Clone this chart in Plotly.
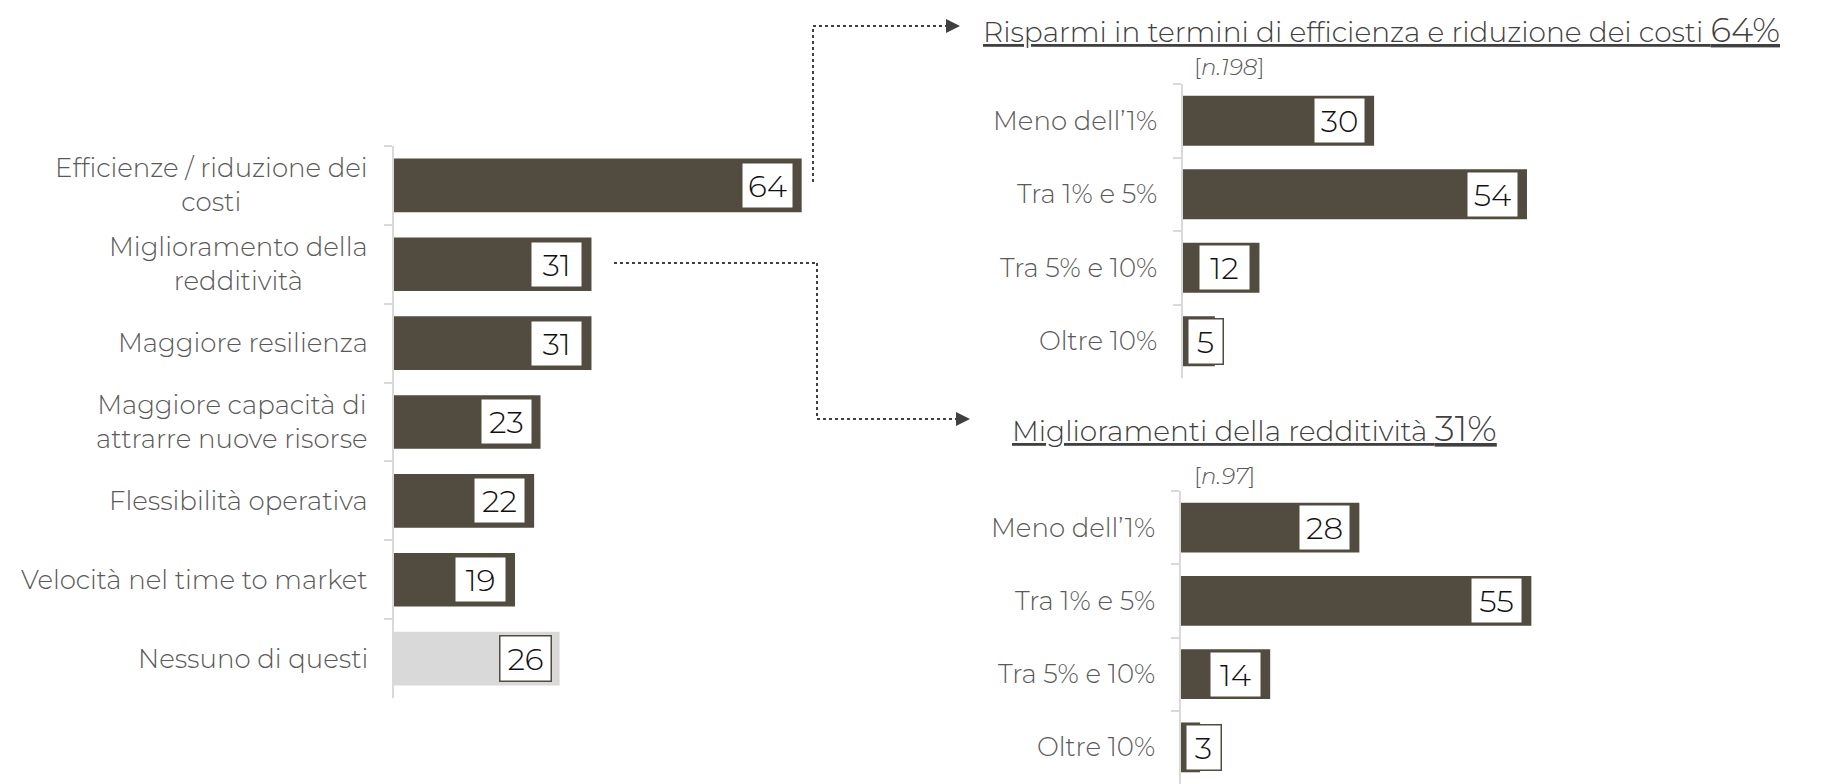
import plotly.graph_objects as go

# left chart: benefits
benefit_labels = [
    "Efficienze / riduzione dei<br>costi",
    "Miglioramento della<br>redditività",
    "Maggiore resilienza",
    "Maggiore capacità di<br>attrarre nuove risorse",
    "Flessibilità operativa",
    "Velocità nel time to market",
    "Nessuno di questi",
]
benefit_values = [64, 31, 31, 23, 22, 19, 26]

# right charts: ranges
range_labels = ["Meno dell’1%", "Tra 1% e 5%", "Tra 5% e 10%", "Oltre 10%"]
savings_values = [30, 54, 12, 5]
profit_values = [28, 55, 14, 3]

savings_title = "Risparmi in termini di efficienza e riduzione dei costi"
savings_share = "64%"
savings_n = "n.198"
profit_title = "Miglioramenti della redditività"
profit_share = "31%"
profit_n = "n.97"

W, H = 1822, 784
OFF = 8  # page body margin
PX_PER_UNIT = 6.37
DARK = "#524b3f"
GREY_BAR = "#d9d9d9"
LABEL_COLOR = "#595959"
FONT = "Montserrat, Open Sans, Lato, sans-serif"


def px_x(p):
    return (p - OFF) / W


def px_y(p):
    return 1 - (p - OFF) / H


fig = go.Figure()

bar_colors = [DARK] * (len(benefit_values) - 1) + [GREY_BAR]
fig.add_trace(go.Bar(
    x=benefit_values, y=benefit_labels, orientation="h",
    marker=dict(color=bar_colors, line=dict(width=0)),
    xaxis="x", yaxis="y", hoverinfo="skip", showlegend=False,
))
fig.add_trace(go.Bar(
    x=savings_values, y=range_labels, orientation="h",
    marker=dict(color=DARK, line=dict(width=0)),
    xaxis="x2", yaxis="y2", hoverinfo="skip", showlegend=False,
))
fig.add_trace(go.Bar(
    x=profit_values, y=range_labels, orientation="h",
    marker=dict(color=DARK, line=dict(width=0)),
    xaxis="x3", yaxis="y3", hoverinfo="skip", showlegend=False,
))

annotations = []
panels = [
    ("x", "y", benefit_labels, benefit_values),
    ("x2", "y2", range_labels, savings_values),
    ("x3", "y3", range_labels, profit_values),
]
for xr, yr, labels, values in panels:
    for lab, v in zip(labels, values):
        # category label, lines centred on each other
        annotations.append(dict(
            x=0, y=lab, xref=xr, yref=yr, text=lab, showarrow=False,
            xanchor="right", yanchor="middle", align="center", xshift=-24,
            font=dict(family=FONT, size=26, color=LABEL_COLOR, weight=300),
        ))
        # value box
        box_w = 42 if v >= 10 else 26
        if v * PX_PER_UNIT - 8 < box_w + 14:
            pos = dict(x=0, xanchor="left", xshift=4)
        else:
            pos = dict(x=v, xanchor="right", xshift=-8)
        annotations.append(dict(
            y=lab, xref=xr, yref=yr, text=str(v), showarrow=False,
            yanchor="middle", width=box_w, height=36, bgcolor="white",
            bordercolor=DARK, borderwidth=1.5, borderpad=4,
            font=dict(family=FONT, size=31, color="#111111", weight=300),
            **pos,
        ))

title_font = dict(family=FONT, size=28, color="#404040", weight=300)
annotations += [
    dict(x=px_x(981), y=px_y(30), xref="paper", yref="paper", xanchor="left", yanchor="middle",
         showarrow=False, font=title_font,
         text=f"<u>{savings_title} <span style='font-size:34px'>{savings_share}</span></u>"),
    dict(x=px_x(1010), y=px_y(428), xref="paper", yref="paper", xanchor="left", yanchor="middle",
         showarrow=False, font=title_font,
         text=f"<u>{profit_title} <span style='font-size:36px'>{profit_share}</span></u>"),
    dict(x=px_x(1192), y=px_y(67), xref="paper", yref="paper", xanchor="left", yanchor="middle",
         showarrow=False, font=dict(family=FONT, size=23, color=LABEL_COLOR, weight=300),
         text=f"[<i>{savings_n}</i>]"),
    dict(x=px_x(1192), y=px_y(476), xref="paper", yref="paper", xanchor="left", yanchor="middle",
         showarrow=False, font=dict(family=FONT, size=23, color=LABEL_COLOR, weight=300),
         text=f"[<i>{profit_n}</i>]"),
]

# dotted connectors with arrow heads
conn = dict(color="#404040", width=2, dash="dot")
shapes = []
for pts in [[(813, 182), (813, 26), (946, 26)],
            [(614, 263), (817, 263), (817, 419), (956, 419)]]:
    for (xa, ya), (xb, yb) in zip(pts[:-1], pts[1:]):
        shapes.append(dict(type="line", xref="paper", yref="paper",
                           x0=px_x(xa), y0=px_y(ya), x1=px_x(xb), y1=px_y(yb), line=conn))
    tx, ty = pts[-1]
    shapes.append(dict(
        type="path", xref="paper", yref="paper", fillcolor="#404040", line=dict(width=0),
        path=f"M {px_x(tx)} {px_y(ty - 7)} L {px_x(tx + 14)} {px_y(ty)} L {px_x(tx)} {px_y(ty + 7)} Z",
    ))


def xaxis(x0px, x1px):
    return dict(domain=[px_x(x0px), min(1, px_x(x1px))], range=[0, (x1px - x0px) / PX_PER_UNIT],
                showgrid=False, zeroline=False, showticklabels=False, showline=False, fixedrange=True)


def yaxis(anchor, top_px, bottom_px, n):
    return dict(domain=[max(0, px_y(bottom_px)), px_y(top_px)], anchor=anchor,
                range=[n - 0.5, -0.5], showgrid=False, zeroline=False, showticklabels=False,
                showline=True, linecolor="#d9d9d9", linewidth=2,
                ticks="outside", tickson="boundaries", ticklen=8, tickcolor="#d9d9d9", tickwidth=2,
                fixedrange=True)


fig.update_layout(
    width=W, height=H,
    margin=dict(l=0, r=0, t=0, b=0),
    paper_bgcolor="white", plot_bgcolor="white",
    bargap=0.32,
    xaxis=xaxis(394, 1031),
    yaxis=yaxis("x", 146, 698, len(benefit_labels)),
    xaxis2=dict(xaxis(1183, 1822), anchor="y2"),
    yaxis2=yaxis("x2", 84, 378, len(range_labels)),
    xaxis3=dict(xaxis(1181, 1822), anchor="y3"),
    yaxis3=yaxis("x3", 491, 784, len(range_labels)),
    annotations=annotations,
    shapes=shapes,
    showlegend=False,
)

fig.write_html("out.html")
